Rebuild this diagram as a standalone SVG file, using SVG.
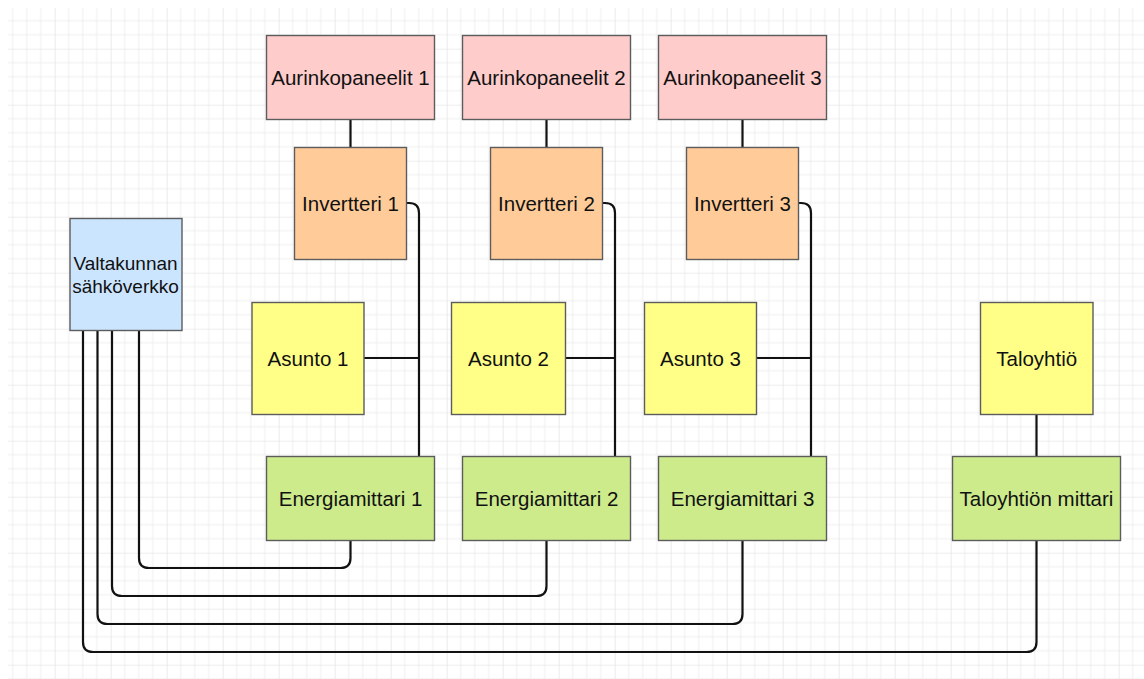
<svg xmlns="http://www.w3.org/2000/svg" width="1144" height="679" viewBox="0 0 1144 679">
<defs>
<pattern id="grid" x="-1.3" y="-7.3" width="56" height="56" patternUnits="userSpaceOnUse">
<path d="M14,0V56M28,0V56M42,0V56M0,14H56M0,28H56M0,42H56" stroke="#eeeeee" stroke-width="1" fill="none"/>
<path d="M0,0V56M0,0H56" stroke="#dedede" stroke-width="1.2" fill="none"/>
</pattern>
<style>
.box{stroke:#5c5c5c;stroke-width:1.4}
.pink{fill:#ffcccc}.orange{fill:#ffcc99}.blue{fill:#cce5ff}.yellow{fill:#ffff88}.green{fill:#cdeb8b}
.t{font-family:"Liberation Sans",Arial,sans-serif;font-size:20.5px;fill:#111;text-anchor:middle}
.s{font-size:19px}
.c{fill:none;stroke:#111;stroke-width:2.2;stroke-linejoin:round}
</style>
</defs>
<rect width="1144" height="679" fill="#fff"/>
<rect x="8" y="8" width="1136" height="671" fill="url(#grid)"/>
<g id="connectors">
<path class="c" d="M350.5,119.5V147.5"/>
<path class="c" d="M546.5,119.5V147.5"/>
<path class="c" d="M742.5,119.5V147.5"/>
<path class="c" d="M406.5,203H409Q419,203 419,213V456.5"/>
<path class="c" d="M602.5,203H605Q615,203 615,213V456.5"/>
<path class="c" d="M798.5,203H801Q811,203 811,213V456.5"/>
<path class="c" d="M364,358H419"/>
<path class="c" d="M565.5,358H615"/>
<path class="c" d="M756,358H811"/>
<path class="c" d="M1036.5,414.5V456.5"/>
<path class="c" d="M139,330V558Q139,568 149,568H340.5Q350.5,568 350.5,558V540.5"/>
<path class="c" d="M112,330V586Q112,596 122,596H536.5Q546.5,596 546.5,586V540.5"/>
<path class="c" d="M97.5,330V614Q97.5,624 107.5,624H732.5Q742.5,624 742.5,614V540.5"/>
<path class="c" d="M83,330V642Q83,652 93,652H1026.5Q1036.5,652 1036.5,642V540.5"/>
</g>
<g id="aurinko1"><rect class="box pink" x="266.5" y="35.5" width="168" height="84"/><text class="t" x="350.5" y="84.5">Aurinkopaneelit 1</text></g>
<g id="aurinko2"><rect class="box pink" x="462.5" y="35.5" width="168" height="84"/><text class="t" x="546.5" y="84.5">Aurinkopaneelit 2</text></g>
<g id="aurinko3"><rect class="box pink" x="658.5" y="35.5" width="168" height="84"/><text class="t" x="742.5" y="84.5">Aurinkopaneelit 3</text></g>
<g id="invertteri1"><rect class="box orange" x="294.5" y="147.5" width="112" height="112"/><text class="t" x="350.5" y="210.5">Invertteri 1</text></g>
<g id="invertteri2"><rect class="box orange" x="490.5" y="147.5" width="112" height="112"/><text class="t" x="546.5" y="210.5">Invertteri 2</text></g>
<g id="invertteri3"><rect class="box orange" x="686.5" y="147.5" width="112" height="112"/><text class="t" x="742.5" y="210.5">Invertteri 3</text></g>
<g id="valtakunnan"><rect class="box blue" x="70" y="218.5" width="112" height="112"/><text class="t s" x="125.5" y="270">Valtakunnan</text><text class="t s" x="125.5" y="293">sähköverkko</text></g>
<g id="asunto1"><rect class="box yellow" x="252" y="302.5" width="112" height="112"/><text class="t" x="308" y="365.5">Asunto 1</text></g>
<g id="asunto2"><rect class="box yellow" x="451.5" y="302.5" width="114" height="112"/><text class="t" x="508.5" y="365.5">Asunto 2</text></g>
<g id="asunto3"><rect class="box yellow" x="644.5" y="302.5" width="112" height="112"/><text class="t" x="700.5" y="365.5">Asunto 3</text></g>
<g id="taloyhtio"><rect class="box yellow" x="980.5" y="302.5" width="112.5" height="112"/><text class="t" x="1036.7" y="365.5">Taloyhtiö</text></g>
<g id="energiamittari1"><rect class="box green" x="266.5" y="456.5" width="168" height="84"/><text class="t" x="350.5" y="506">Energiamittari 1</text></g>
<g id="energiamittari2"><rect class="box green" x="462.5" y="456.5" width="168" height="84"/><text class="t" x="546.5" y="506">Energiamittari 2</text></g>
<g id="energiamittari3"><rect class="box green" x="658.5" y="456.5" width="168" height="84"/><text class="t" x="742.5" y="506">Energiamittari 3</text></g>
<g id="taloyhtion-mittari"><rect class="box green" x="952.5" y="456.5" width="168" height="84"/><text class="t" x="1036.5" y="506">Taloyhtiön mittari</text></g>
</svg>
